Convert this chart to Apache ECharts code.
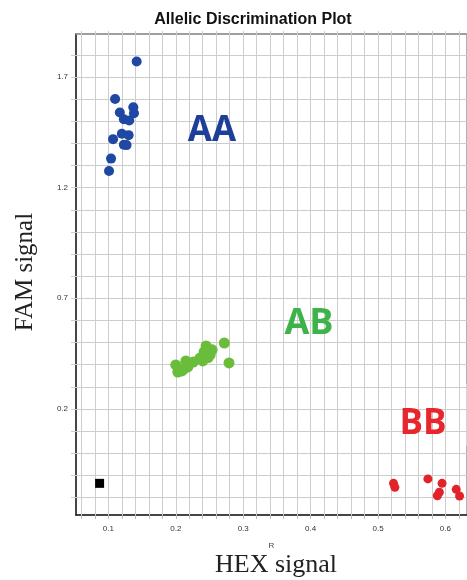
<!DOCTYPE html>
<html>
<head>
<meta charset="utf-8">
<script src="https://cdn.jsdelivr.net/npm/echarts@6/dist/echarts.min.js"></script>
<style>html,body{margin:0;padding:0;background:#fff}#c{width:467px;height:580px}</style>
</head>
<body>
<div id="c"></div>
<script>
// ---- data ----
const aaPoints = [
  [0.142, 1.770], [0.110, 1.600], [0.117, 1.539], [0.137, 1.563], [0.138, 1.536],
  [0.123, 1.509], [0.131, 1.503], [0.107, 1.419], [0.120, 1.443], [0.130, 1.437],
  [0.123, 1.394], [0.127, 1.392], [0.104, 1.331], [0.101, 1.275]
];
const abPoints = [
  [0.200, 0.399], [0.209, 0.372], [0.218, 0.390], [0.215, 0.417], [0.203, 0.367],
  [0.212, 0.380], [0.226, 0.412], [0.236, 0.430], [0.242, 0.458], [0.251, 0.444],
  [0.245, 0.485], [0.254, 0.467], [0.240, 0.417], [0.248, 0.432], [0.272, 0.498],
  [0.279, 0.408]
];
const bbPoints = [
  [0.523, -0.136], [0.525, -0.154], [0.574, -0.116], [0.595, -0.136],
  [0.591, -0.176], [0.588, -0.192], [0.616, -0.163], [0.621, -0.193]
];
const ntcPoints = [[0.087, -0.136]];

const xTickLabels = [0.1, 0.2, 0.3, 0.4, 0.5, 0.6];
const yTickLabels = [0.2, 0.7, 1.2, 1.7];
const xGridValues = [0.06, 0.08, 0.10, 0.12, 0.14, 0.16, 0.18, 0.20, 0.22, 0.24, 0.26, 0.28,
  0.30, 0.32, 0.34, 0.36, 0.38, 0.40, 0.42, 0.44, 0.46, 0.48, 0.50, 0.52, 0.54, 0.56, 0.58, 0.60, 0.62];
const yGridValues = [-0.2, -0.1, 0.0, 0.1, 0.2, 0.3, 0.4, 0.5, 0.6, 0.7, 0.8, 0.9, 1.0,
  1.1, 1.2, 1.3, 1.4, 1.5, 1.6, 1.7, 1.8];
const xRange = [0.052, 0.632];
const yRange = [-0.279, 1.894];

// ---- chart ----
const chart = echarts.init(document.getElementById('c'));
const gridLineStyle = {color: '#cdcdcd', width: 1, type: 'solid'};
const fmt = v => (Math.round(v * 10) / 10).toFixed(1);

chart.setOption({
  animation: false,
  backgroundColor: '#fff',
  title: {
    text: 'Allelic Discrimination Plot',
    left: 248, top: 7, textAlign: 'center',
    textStyle: {fontFamily: 'Liberation Sans', fontWeight: 'bold', fontSize: 16, color: '#111'}
  },
  grid: {left: 76, top: 34, right: -2, bottom: 65, show: true, borderColor: '#999', borderWidth: 1.5, backgroundColor: 'transparent'},
  xAxis: [{
    type: 'value', min: xRange[0], max: xRange[1], position: 'bottom',
    splitLine: {show: false},
    axisLine: {show: true, onZero: false, lineStyle: {color: '#222', width: 1.5}},
    axisTick: {show: true, customValues: xGridValues, length: 4, lineStyle: {color: '#bbb'}},
    axisLabel: {customValues: xTickLabels, formatter: fmt, fontSize: 8, color: '#333', fontFamily: 'Liberation Sans', margin: 10},
    name: 'R', nameLocation: 'middle', nameGap: 27,
    nameTextStyle: {fontSize: 8, color: '#444', fontFamily: 'Liberation Sans'}
  }, {
    type: 'value', min: xRange[0], max: xRange[1], position: 'top',
    splitLine: {show: false},
    axisLine: {show: true, onZero: false, lineStyle: {color: '#999', width: 1.5}},
    axisTick: {show: true, customValues: xGridValues, length: 3, lineStyle: {color: '#ccc'}},
    axisLabel: {show: false}
  }],
  yAxis: {
    type: 'value', min: yRange[0], max: yRange[1],
    splitLine: {show: false},
    axisLine: {show: true, onZero: false, lineStyle: {color: '#222', width: 1.5}},
    axisTick: {show: true, customValues: yGridValues, length: 5, lineStyle: {color: '#ccc'}},
    axisLabel: {customValues: yTickLabels, formatter: fmt, fontSize: 8, color: '#333', fontFamily: 'Liberation Sans', margin: 8}
  },
  graphic: [
    {type: 'rect', z: 5, shape: {x: 164, y: 101, width: 104, height: 46}, style: {fill: 'rgba(255,255,255,0.55)'}},
    {type: 'rect', z: 5, shape: {x: 268, y: 300, width: 84, height: 46}, style: {fill: 'rgba(255,255,255,0.55)'}},
    {type: 'rect', z: 5, shape: {x: 390, y: 384, width: 80, height: 62}, style: {fill: 'rgba(255,255,255,0.45)'}},
    {type: 'text', z: 10, x: 212, y: 131, style: {text: 'AA', fill: '#1e3f99', font: 'bold 35px "Open Sans"', align: 'center', verticalAlign: 'middle'}},
    {type: 'text', z: 10, x: 309, y: 324, style: {text: 'AB', fill: '#3db34a', font: 'bold 36px "Open Sans"', align: 'center', verticalAlign: 'middle'}},
    {type: 'text', z: 10, x: 423, y: 424, style: {text: 'BB', fill: '#e8262d', font: 'bold 35px "Open Sans"', align: 'center', verticalAlign: 'middle'}},
    {type: 'text', z: 10, x: 276, y: 565, style: {text: 'HEX signal', fill: '#222', font: '26px "Liberation Serif"', align: 'center', verticalAlign: 'middle'}},
    {type: 'text', z: 10, x: 25, y: 272, rotation: Math.PI / 2, style: {text: 'FAM signal', fill: '#222', font: '25px "Liberation Serif"', align: 'center', verticalAlign: 'middle'}}
  ],
  series: [
    {
      type: 'scatter', data: [], z: 1, silent: true,
      markLine: {
        silent: true, symbol: 'none', label: {show: false}, animation: false,
        lineStyle: gridLineStyle,
        data: xGridValues.map(v => ({xAxis: v})).concat(yGridValues.map(v => ({yAxis: v})))
      }
    },
    {name: 'AA', type: 'scatter', z: 20, data: aaPoints, symbol: 'circle', symbolSize: 10, itemStyle: {color: '#1f48a3', opacity: 1}},
    {name: 'AB', type: 'scatter', z: 20, data: abPoints, symbol: 'circle', symbolSize: 11, itemStyle: {color: '#69bd3b', opacity: 1}},
    {name: 'BB', type: 'scatter', z: 20, data: bbPoints, symbol: 'circle', symbolSize: 9, itemStyle: {color: '#e3232a', opacity: 1}},
    {name: 'NTC', type: 'scatter', z: 20, data: ntcPoints, symbol: 'rect', symbolSize: 9, itemStyle: {color: '#000', opacity: 1}}
  ]
});
</script>
</body>
</html>
